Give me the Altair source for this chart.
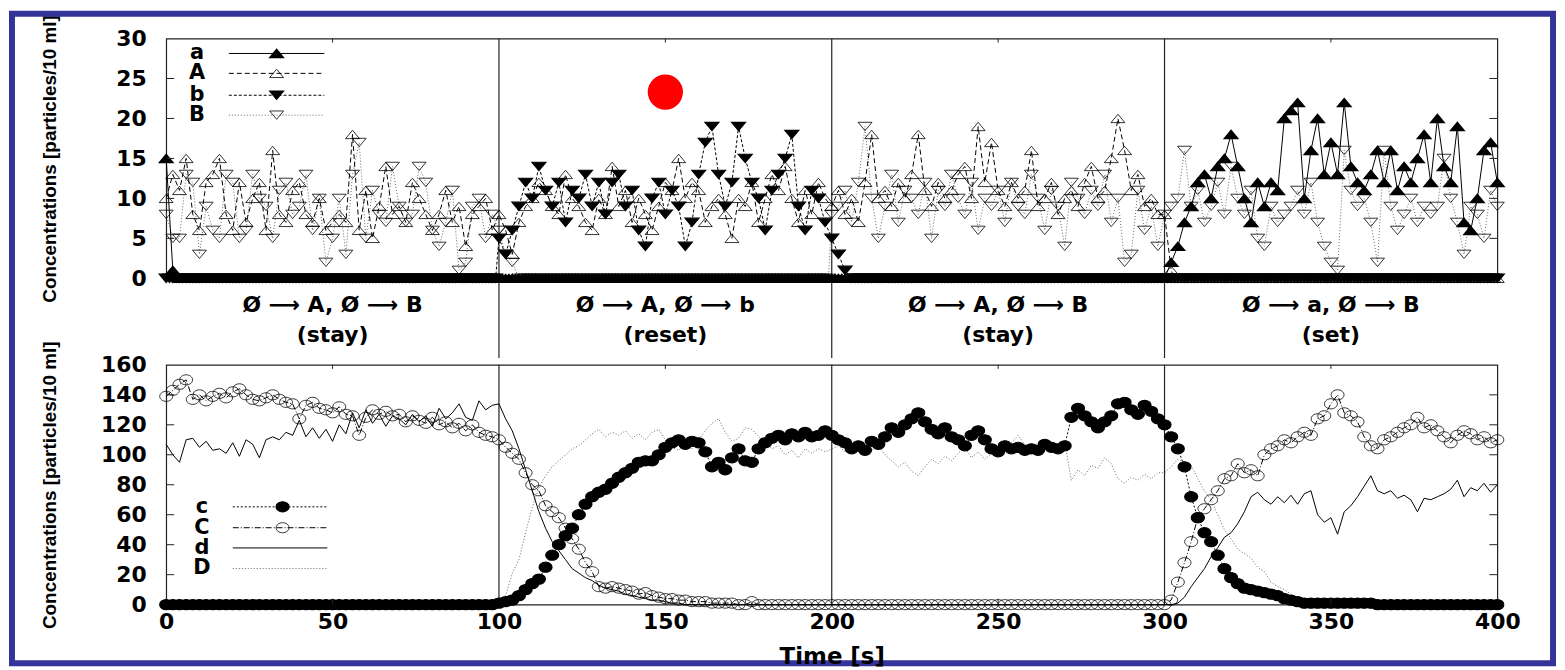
import altair as alt
import pandas as pd

# ---------------- values ----------------
# Each series is a list of segments (start time [s], step [s], values).
# Long stretches where a species is absent are read at 1 s, the rest at 2 s.

# upper panel
a_segs = [(0, 2, [15, 1]),
          (4, 1, [0] * 296),
          (300, 2, [0, 2, 4, 7, 9, 12, 13, 10, 14, 15, 18, 14, 10, 7, 12, 9, 12, 11, 20, 21,
                    22, 10, 16, 20, 13, 17, 13, 22, 14, 12, 11, 13, 16, 12, 16, 11, 14, 12, 15, 18,
                    12, 20, 14, 12, 19, 7, 6, 10, 16, 17, 12])]
A_segs = [(0, 2, [10, 13, 11, 15, 8, 6, 12, 13, 15, 8, 6, 12, 7, 10, 12, 6, 16, 8, 7, 11,
                  12, 8, 7, 10, 6, 7, 8, 7, 18, 6, 11, 5, 9, 14, 8, 9, 7, 12, 10, 8,
                  6, 8, 11, 7, 9, 4, 8, 9, 10, 6,
                  8, 6, 3, 7, 9, 10, 12, 11, 9, 8, 13, 10, 9, 7, 6, 10, 8, 14, 9, 11,
                  7, 10, 8, 6, 9, 12, 11, 15, 10, 12, 11, 7, 9, 10, 8, 5, 10, 9, 12, 7,
                  10, 13, 11, 14, 10, 7, 11, 8, 12, 10,
                  9, 11, 8, 10, 7, 12, 18, 10, 11, 9, 12, 10, 13, 18, 11, 9, 12, 10, 11, 13,
                  14, 10, 19, 12, 17, 11, 9, 12, 10, 11, 16, 9, 10, 12, 8, 10, 11, 9, 12, 14,
                  10, 11, 15, 20, 16, 11, 13, 9, 10, 8,
                  8]),
          (302, 1, [1] + [0] * 98)]
b_segs = [(0, 1, [0] * 100),
          (100, 2, [5, 3, 6, 9, 12, 10, 14, 11, 9, 12, 7, 11, 10, 13, 9, 12, 8, 12, 13, 9,
                    11, 6, 4, 10, 12, 8, 11, 9, 4, 7, 13, 17, 19, 13, 9, 12, 19, 15, 12, 10,
                    6, 11, 13, 15, 18, 9, 6, 11, 10, 7,
                    5, 3, 1]),
          (206, 1, [0] * 195)]
B_segs = [(0, 2, [8, 5, 5, 13, 12, 3, 9, 6, 5, 13, 12, 5, 6, 13, 10, 9, 5, 11, 12, 8,
                  9, 13, 6, 10, 2, 5, 10, 3, 13, 17, 5, 11, 8, 7, 14, 9, 7, 8, 14, 12,
                  6, 4, 7, 11, 1, 2, 9, 10, 5, 8,
                  6, 3, 2]),
          (106, 1, [0] * 94),
          (200, 2, [8, 9, 11, 7, 12, 19, 10, 5, 9, 13, 7, 11, 10, 8, 12, 5, 11, 9, 13, 10,
                    8, 12, 6, 10, 9, 11, 7, 12, 9, 8, 13, 10, 6, 11, 9, 4, 12, 10, 8, 11,
                    9, 13, 7, 10, 2, 3, 11, 6, 9, 4,
                    8, 9, 10, 16, 9, 11, 7, 9, 12, 8, 14, 10, 8, 11, 5, 4, 9, 7, 8, 9,
                    11, 8, 12, 7, 4, 2, 1, 16, 11, 9, 10, 7, 2, 16, 9, 6, 8, 10, 7, 9,
                    8, 9, 15, 10, 7, 3, 9, 8, 5, 11, 9])]

# lower panel (2 s sampling)
c_vals = ([0] * 50 +
          [1, 2, 3, 6, 10, 14, 17, 25, 33, 40, 46, 51, 60, 67, 72, 75, 77, 81, 85, 88,
           91, 95, 96, 96, 100, 105, 108, 110, 107, 109, 108, 102, 92, 95, 90, 98, 104, 96, 95, 104,
           108, 111, 113, 110, 114, 112, 115, 112, 113, 116] +
          [113, 110, 108, 104, 106, 103, 109, 107, 112, 118, 115, 120, 124, 128, 122, 117, 114, 118, 112, 110,
           106, 113, 116, 110, 104, 102, 106, 104, 105, 103, 104, 103, 107, 105, 104, 106, 125, 131, 126, 122,
           118, 122, 126, 134, 135, 130, 127, 133, 129, 124] +
          [120, 112, 104, 92, 72, 58, 48, 42, 33, 24, 18, 14, 11, 10, 9, 8, 7, 6, 4, 3,
           2, 1, 1, 1, 1, 1, 1, 1, 1, 1, 1, 1] + [0] * 19)
C_vals = ([139, 143, 147, 150, 137, 140, 136, 139, 141, 138, 142, 144, 140, 137, 136, 138, 140, 137, 135, 134,
           124, 133, 135, 131, 130, 128, 132, 127, 126, 113, 125, 130, 127, 129, 126, 127, 122, 126, 123, 121,
           125, 120, 122, 118, 121, 116, 120, 115, 113, 112] +
          [110, 105, 101, 97, 88, 80, 76, 66, 62, 58, 51, 44, 37, 28, 22, 12, 11, 12, 11, 10,
           9, 7, 8, 6, 5, 4, 4, 3, 3, 2, 2, 2, 1, 1, 1, 1, 0, 0, 2, 0] + [0] * 10 +
          [0] * 50 +
          [0, 3, 15, 28, 42, 58, 64, 70, 76, 84, 86, 94, 88, 90, 86, 100, 104, 106, 110, 108,
           112, 115, 113, 124, 126, 134, 140, 128, 126, 122, 112, 106, 104, 110, 112, 115, 118, 120, 125, 118,
           120, 116, 112, 108, 113, 116, 114, 110, 112, 108, 110])
d_vals = ([107, 100, 95, 110, 111, 105, 109, 103, 104, 101, 108, 99, 110, 107, 98, 110, 112, 110, 115, 113,
           123, 112, 118, 111, 117, 109, 120, 114, 128, 118, 130, 121, 127, 119, 126, 124, 120, 127, 122, 126,
           119, 131, 124, 128, 134, 125, 123, 136, 130, 133] +
          [134, 124, 116, 104, 90, 76, 62, 51, 42, 36, 30, 24, 21, 18, 16, 13, 11, 10, 9, 7,
           6, 5, 4, 3, 3, 2, 1, 1] + [0] * 22 +
          [0] * 50 +
          [0, 0, 1, 5, 12, 18, 24, 32, 38, 45, 48, 54, 62, 72, 75, 70, 67, 72, 68, 73,
           67, 74, 76, 60, 55, 58, 47, 62, 66, 72, 79, 86, 76, 74, 76, 71, 73, 70, 62, 71,
           70, 72, 74, 77, 83, 72, 78, 76, 81, 75, 80])
D_vals = ([0] * 50 +
          [0, 6, 21, 30, 48, 65, 78, 86, 92, 96, 100, 104, 106, 110, 114, 117, 112, 115, 113, 116,
           111, 114, 110, 115, 117, 110, 105, 103, 108, 104, 110, 116, 121, 124, 115, 109, 111, 118, 117, 112,
           108, 104, 106, 100, 103, 98, 104, 101, 104, 102] +
          [104, 106, 102, 108, 104, 107, 103, 106, 100, 96, 92, 95, 89, 86, 92, 97, 94, 99, 96, 101,
           105, 98, 102, 97, 101, 104, 110, 108, 113, 107, 104, 108, 105, 109, 106, 108, 83, 90, 86, 93,
           91, 98, 94, 84, 81, 85, 83, 87, 84, 88] +
          [88, 92, 97, 95, 93, 84, 76, 70, 60, 50, 44, 37, 34, 31, 25, 22, 15, 12, 10, 7,
           3, 1] + [0] * 29)

phase_bounds = [100, 200, 300]
phase_mid = [50, 150, 250, 350]
phase_line1 = ["Ø ⟶ A, Ø ⟶ B", "Ø ⟶ A, Ø ⟶ b", "Ø ⟶ A, Ø ⟶ B", "Ø ⟶ a, Ø ⟶ B"]
phase_line2 = ["(stay)", "(reset)", "(stay)", "(set)"]
marker_pos = [150, 23.3]  # red dot

top_y_ticks = [0, 5, 10, 15, 20, 25, 30]
bot_y_ticks = [0, 20, 40, 60, 80, 100, 120, 140, 160]
x_ticks = [0, 50, 100, 150, 200, 250, 300, 350, 400]
x_minor = [50, 150, 250, 350]

# ---------------- layout constants ----------------
W, H = 1338, 241
TOP_MAX, BOT_MAX = 30, 160
px_t = 400 / W
px_top = TOP_MAX / H
px_bot = BOT_MAX / H
BIG = "DejaVu Sans"
TITLE = "Concentrations [particles/10 ml]"

UP = "M-1,0.6L0,-0.6L1,0.6Z"
DOWN = "M-1,-0.6L0,0.6L1,-0.6Z"
ELL = "M-1,0A1,0.78 0 1,0 1,0A1,0.78 0 1,0 -1,0Z"

TOP_STYLE = {
    "a": dict(dash=None, color="black", shape=UP, filled=True),
    "A": dict(dash=[5, 3], color="black", shape=UP, filled=False),
    "b": dict(dash=[3, 2], color="black", shape=DOWN, filled=True),
    "B": dict(dash=[1, 2], color="#666666", shape=DOWN, filled=False),
}
BOT_STYLE = {
    "c": dict(dash=[2, 2], color="black", shape=ELL, filled=True),
    "C": dict(dash=[6, 2, 1, 2], color="black", shape=ELL, filled=False),
    "d": dict(dash=None, color="black", shape=None, filled=False),
    "D": dict(dash=[1, 2], color="#666666", shape=None, filled=False),
}


def seg_df(d):
    rows = []
    for name, segs in d.items():
        for t0, dt, vals in segs:
            for i, v in enumerate(vals):
                rows.append({"t": t0 + i * dt, "v": v, "s": name})
    return pd.DataFrame(rows)


t_grid = list(range(0, 401, 2))


def long_df(d):
    rows = []
    for name, vals in d.items():
        assert len(vals) == len(t_grid), (name, len(vals))
        for t, v in zip(t_grid, vals):
            rows.append({"t": t, "v": v, "s": name})
    return pd.DataFrame(rows)


top_df = seg_df({"a": a_segs, "A": A_segs, "b": b_segs, "B": B_segs})
bot_df = long_df({"c": c_vals, "C": C_vals, "d": d_vals, "D": D_vals})

xs = alt.Scale(domain=[0, 400], nice=False)
ys_top = alt.Scale(domain=[0, TOP_MAX], nice=False)
ys_bot = alt.Scale(domain=[0, BOT_MAX], nice=False)


def y_axis(vals):
    return alt.Axis(values=vals, title=TITLE, labelPadding=20, labelFlush=False,
                    titleFont="Liberation Sans", titleFontSize=19, titleFontWeight="bold",
                    titleX=-117, titleY=H / 2, titleAngle=270, titleAlign="center",
                    titleBaseline="middle")


Xt = alt.X("t:Q", scale=xs, axis=None)
Yt = alt.Y("v:Q", scale=ys_top, axis=y_axis(top_y_ticks))
Xb = alt.X("t:Q", scale=xs, axis=alt.Axis(values=x_ticks, title="Time [s]", labelPadding=7,
                                          labelFlush=False, titlePadding=13, titleFont=BIG,
                                          titleFontSize=23, titleFontWeight="bold"))
Yb = alt.Y("v:Q", scale=ys_bot, axis=y_axis(bot_y_ticks))


def point_kw(st, size):
    kw = dict(shape=st["shape"], filled=st["filled"], color="black", size=size, opacity=1)
    if st["filled"]:
        kw.update(stroke="black", strokeWidth=1.2)
    else:
        kw.update(strokeWidth=0.8)
    return kw


def series_layers(df, name, st, X, Y, size):
    base = alt.Chart(df).transform_filter(alt.datum.s == name)
    kw = dict(color=st["color"], strokeWidth=1)
    if st["dash"]:
        kw["strokeDash"] = st["dash"]
    out = [base.mark_line(**kw).encode(x=X, y=Y)]
    if st["shape"]:
        out.append(base.mark_point(**point_kw(st, size)).encode(x=X, y=Y))
    return out


def legend_layers(names, styles, X, Y, lab_t, t0, t1, tm, rows_v, size):
    out = []
    lab_df = pd.DataFrame({"t": [lab_t] * len(names), "v": rows_v, "s": names})
    out.append(alt.Chart(lab_df).mark_text(font=BIG, fontWeight="bold", fontSize=21, align="center",
                                           baseline="middle", color="black")
               .encode(x=X, y=Y, text="s:N"))
    for name, v in zip(names, rows_v):
        st = styles[name]
        kw = dict(color=st["color"], strokeWidth=1)
        if st["dash"]:
            kw["strokeDash"] = st["dash"]
        out.append(alt.Chart(pd.DataFrame({"t": [t0], "t2": [t1], "v": [v]}))
                   .mark_rule(**kw).encode(x=X, x2="t2:Q", y=Y))
        if st["shape"]:
            out.append(alt.Chart(pd.DataFrame({"t": [tm], "v": [v]}))
                       .mark_point(**point_kw(st, size)).encode(x=X, y=Y))
    return out


def tick_layers(X, Y, yt, per_px, y_top, x_top_len, x_bot_len):
    tl = 8 * px_t
    inner = [v for v in yt if 0 < v < y_top]
    left = pd.DataFrame({"t": 0.0, "t2": tl, "v": inner})
    right = pd.DataFrame({"t": 400 - tl, "t2": 400.0, "v": inner})
    out = [alt.Chart(left).mark_rule(color="#222", strokeWidth=1).encode(x=X, x2="t2:Q", y=Y),
           alt.Chart(right).mark_rule(color="#222", strokeWidth=1).encode(x=X, x2="t2:Q", y=Y)]
    top = pd.DataFrame({"t": x_minor, "v": y_top, "v2": y_top - x_top_len * per_px})
    out.append(alt.Chart(top).mark_rule(color="#222", strokeWidth=1).encode(x=X, y=Y, y2="v2:Q"))
    if x_bot_len:
        bot = pd.DataFrame({"t": x_minor, "v": 0.0, "v2": x_bot_len * per_px})
        out.append(alt.Chart(bot).mark_rule(color="#222", strokeWidth=1).encode(x=X, y=Y, y2="v2:Q"))
    return out


# ---------------- upper panel ----------------
top_layers = []
div_top = pd.DataFrame({"t": phase_bounds, "v": TOP_MAX, "v2": -80 * px_top})
top_layers.append(alt.Chart(div_top).mark_rule(color="#222", strokeWidth=1.2)
                  .encode(x=Xt, y=Yt, y2="v2:Q"))
for name in ["B", "A", "b", "a"]:
    top_layers += series_layers(top_df, name, TOP_STYLE[name], Xt, Yt, 196)
top_layers += tick_layers(Xt, Yt, top_y_ticks, px_top, TOP_MAX, 4, 0)
top_layers += legend_layers(["a", "A", "b", "B"], TOP_STYLE, Xt, Yt,
                            31 * px_t, 63 * px_t, 159 * px_t, 111 * px_t,
                            [226 * px_top, 206 * px_top, 184 * px_top, 164 * px_top], 196)
red = pd.DataFrame({"t": [marker_pos[0]], "v": [marker_pos[1]]})
top_layers.append(alt.Chart(red).mark_point(shape="circle", filled=True, color="#ff0000", size=1257,
                                            opacity=1).encode(x=Xt, y=Yt))
lab_df = pd.DataFrame({"t": phase_mid, "l1": phase_line1, "l2": phase_line2,
                       "v": -27 * px_top, "v2": -57 * px_top})
top_layers.append(alt.Chart(lab_df).mark_text(font=BIG, fontWeight="bold", fontSize=22, align="center",
                                              baseline="middle", color="black")
                  .encode(x=Xt, y=Yt, text="l1:N"))
top_layers.append(alt.Chart(lab_df).mark_text(font=BIG, fontWeight="bold", fontSize=22, align="center",
                                              baseline="middle", color="black")
                  .encode(x=Xt, y=alt.Y("v2:Q", scale=ys_top, axis=y_axis(top_y_ticks)), text="l2:N"))
frame = pd.DataFrame({"k": [0]})
top_layers.append(alt.Chart(frame).mark_rect(fillOpacity=0, stroke="#333399", strokeWidth=6)
                  .encode(x=alt.value(-155), x2=alt.value(1394), y=alt.value(-25), y2=alt.value(628)))
top = alt.layer(*top_layers).properties(width=W, height=H)

# ---------------- lower panel ----------------
bot_layers = []
div_bot = pd.DataFrame({"t": phase_bounds, "v": BOT_MAX, "v2": 0.0})
bot_layers.append(alt.Chart(div_bot).mark_rule(color="#222", strokeWidth=1.2)
                  .encode(x=Xb, y=Yb, y2="v2:Q"))
for name in ["D", "d", "C", "c"]:
    bot_layers += series_layers(bot_df, name, BOT_STYLE[name], Xb, Yb, 169)
bot_layers += tick_layers(Xb, Yb, bot_y_ticks, px_bot, BOT_MAX, 4, 6)
bot_layers += legend_layers(["c", "C", "d", "D"], BOT_STYLE, Xb, Yb,
                            36 * px_t, 67 * px_t, 162 * px_t, 117 * px_t,
                            [98.3 * px_bot, 77.3 * px_bot, 57 * px_bot, 36.3 * px_bot], 169)
bottom = alt.layer(*bot_layers).properties(width=W, height=H)

chart = (alt.vconcat(top, bottom, spacing=87, bounds="flush", padding=0, background="white")
         .configure_view(stroke="#222", strokeWidth=1.2)
         .configure_axis(grid=False, domain=False, ticks=False, tickSize=0, labelFont=BIG,
                         labelFontWeight="bold", labelFontSize=22, labelColor="black",
                         titleColor="black"))

chart.save("out.html", embed_options={"renderer": "svg", "actions": False})
